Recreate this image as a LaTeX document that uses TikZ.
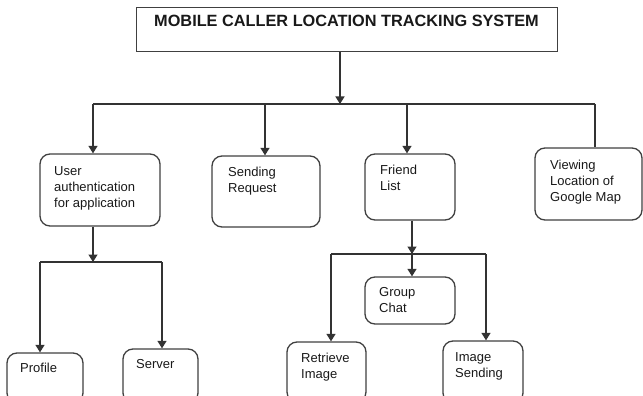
\documentclass[tikz,border=0pt]{standalone}
\usepackage{fontspec}
\setmainfont{Liberation Sans}
\usetikzlibrary{arrows.meta}

\newlength{\du}
\setlength{\du}{1pt}

\tikzset{
  box/.style={draw=black!75, line width=1.3\du, rounded corners=10\du, fill=white},
  wire/.style={draw=black!80, line width=1.3\du},
  arr/.style={-{Triangle[length=7.5pt,width=9pt]}},
  lbl/.style={anchor=north west, inner sep=0pt, align=left, text=black!90,
    font=\fontsize{13}{16}\selectfont}
}

\begin{document}
\begin{tikzpicture}
\pgftransformxscale{1.000000}
\pgftransformyscale{-1.000000}
\useasboundingbox (0\du,0\du) rectangle (643\du,396\du);
\clip (0\du,0\du) rectangle (643\du,396\du);
% title
\node[box, rounded corners=0pt, line width=1\du, minimum width=421\du, minimum height=44\du] (title) at (346.5\du,30\du) {};
\node[lbl, anchor=north, font=\fontsize{16.3}{19}\selectfont\bfseries] (titletext) at (346.5\du,15\du) {MOBILE CALLER LOCATION TRACKING SYSTEM};
% first level
\node[box, minimum width=120\du, minimum height=72\du] (auth) at (100\du,190\du) {};
\node[box, minimum width=108\du, minimum height=71\du] (sendreq) at (266\du,191.5\du) {};
\node[box, minimum width=90\du, minimum height=66\du] (friend) at (410\du,187\du) {};
\node[box, minimum width=107\du, minimum height=72\du] (viewmap) at (588.5\du,184\du) {};
% second level
\node[box, minimum width=76\du, minimum height=50\du] (profile) at (45\du,378\du) {};
\node[box, minimum width=75\du, minimum height=54\du] (server) at (160.5\du,376\du) {};
\node[box, minimum width=90\du, minimum height=47\du] (groupchat) at (410\du,300.5\du) {};
\node[box, minimum width=79\du, minimum height=60\du] (retrieve) at (326.5\du,372\du) {};
\node[box, minimum width=80\du, minimum height=62\du] (imgsend) at (483\du,372\du) {};
% texts
\node[lbl] (authtext) at (54\du,166\du) {User\\authentication\\for application};
\node[lbl] (sendtext) at (228\du,167\du) {Sending\\Request};
\node[lbl] (friendtext) at (380\du,165\du) {Friend\\List};
\node[lbl] (maptext) at (550\du,160\du) {Viewing\\Location of\\Google Map};
\node[lbl] (profiletext) at (20\du,363\du) {Profile};
\node[lbl] (servertext) at (136\du,359\du) {Server};
\node[lbl] (grouptext) at (379\du,287\du) {Group\\Chat};
\node[lbl] (retrievetext) at (301\du,353\du) {Retrieve\\Image};
\node[lbl] (sendimgtext) at (455\du,352\du) {Image\\Sending};
% connectors from the title
\coordinate (bus) at (340\du,104\du);
\coordinate (busL) at (93\du,104\du);
\coordinate (busM) at (265\du,104\du);
\coordinate (busN) at (407\du,104\du);
\coordinate (busR) at (595\du,104\du);
\draw[wire, arr] (title.south -| bus) -- (bus);
\draw[wire] (busL) -- (busR);
\draw[wire, arr] (busL) -- (busL |- auth.north);
\draw[wire, arr] (busM) -- (busM |- sendreq.north);
\draw[wire, arr] (busN) -- (busN |- friend.north);
\draw[wire] (busR) -- (busR |- viewmap.north);
% under user authentication
\coordinate (authbus) at (93\du,262\du);
\coordinate (authL) at (40\du,262\du);
\coordinate (authR) at (162\du,262\du);
\draw[wire, arr] (auth.south -| authbus) -- (authbus);
\draw[wire] (authL) -- (authR);
\draw[wire, arr] (authL) -- (authL |- profile.north);
\draw[wire, arr] (authR) -- (authR |- server.north);
% under friend list
\coordinate (friendbus) at (412\du,254\du);
\coordinate (friendL) at (331\du,254\du);
\coordinate (friendR) at (486\du,254\du);
\draw[wire, arr] (friend.south -| friendbus) -- (friendbus);
\draw[wire] (friendL) -- (friendR);
\draw[wire, arr] (friendbus) -- (friendbus |- groupchat.north);
\draw[wire, arr] (friendL) -- (friendL |- retrieve.north);
\draw[wire, arr] (friendR) -- (friendR |- imgsend.north);
\end{tikzpicture}
\end{document}
